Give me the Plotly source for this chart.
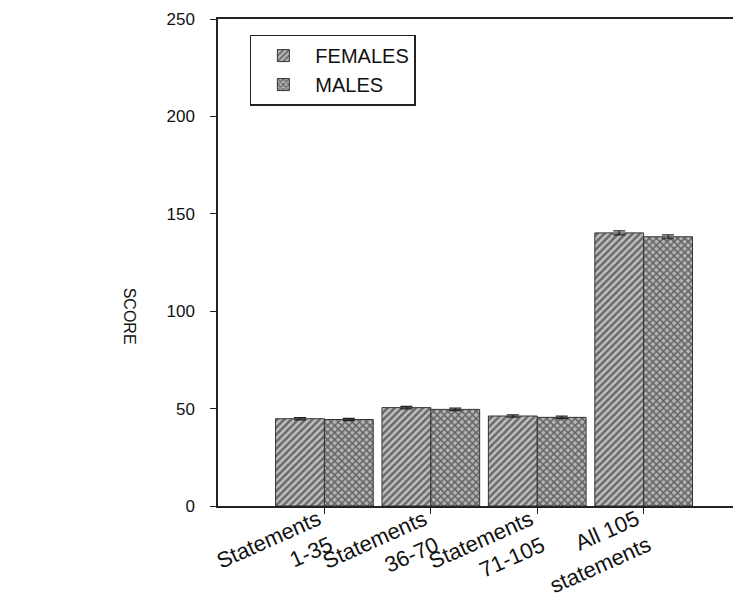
import plotly.graph_objects as go

categories = ["Statements<br>1-35", "Statements<br>36-70", "Statements<br>71-105", "All 105<br>statements"]
females = [44.8, 50.5, 46.2, 140.2]
males = [44.4, 49.6, 45.5, 138.2]
females_err = [0.6, 0.6, 0.6, 1.0]
males_err = [0.6, 0.6, 0.6, 1.0]
y_ticks = [0, 50, 100, 150, 200, 250]

font = "Liberation Sans, Arial, sans-serif"

fig = go.Figure()
fig.add_trace(go.Bar(
    name="FEMALES", x=categories, y=females,
    error_y=dict(type="data", array=females_err, color="#222", thickness=1.2, width=6),
    marker=dict(color="#b0b0b0", line=dict(color="#333", width=1),
                pattern=dict(shape="/", fgcolor="#111", bgcolor="#c0c0c0", size=5, solidity=0.5)),
))
fig.add_trace(go.Bar(
    name="MALES", x=categories, y=males,
    error_y=dict(type="data", array=males_err, color="#222", thickness=1.2, width=6),
    marker=dict(color="#a0a0a0", line=dict(color="#333", width=1),
                pattern=dict(shape="x", fgcolor="#111", bgcolor="#b4b4b4", size=5, solidity=0.5)),
))

# category labels, rotated and right-aligned like the original
label_annotations = [
    dict(text=c, x=c, xref="x", y=0, yref="paper", xanchor="right", yanchor="top",
         xshift=14, yshift=3, textangle=-24, align="right", showarrow=False,
         font=dict(size=22, family=font, color="#111"))
    for c in categories
]

fig.update_layout(
    width=741, height=609,
    margin=dict(l=210, r=0, t=11, b=111),
    paper_bgcolor="white", plot_bgcolor="white",
    barmode="group", bargap=0.082, bargroupgap=0,
    font=dict(family=font, color="#111", size=16),
    showlegend=True,
    legend=dict(x=0.06, y=0.968, xanchor="left", yanchor="top",
                bordercolor="#222", borderwidth=1.5, bgcolor="white",
                font=dict(size=20), itemwidth=54, tracegroupgap=0),
    xaxis=dict(range=[-1.0, 3.99], showline=True, linecolor="#222", linewidth=1.5,
               mirror=True, ticks="outside", ticklen=6, tickcolor="#222",
               showticklabels=False, showgrid=False, zeroline=False),
    yaxis=dict(range=[0, 250], tickvals=y_ticks, showline=True, linecolor="#222",
               linewidth=1.5, ticks="outside", ticklen=6, tickcolor="#222",
               tickfont=dict(size=17), ticklabelstandoff=12, showgrid=False, zeroline=False),
    annotations=label_annotations + [
        dict(text="SCORE", textangle=90, xref="paper", yref="paper",
             x=-0.165, y=0.39, xanchor="center", yanchor="middle",
             showarrow=False, font=dict(size=16, family=font))],
)

fig.write_html("out.html")
